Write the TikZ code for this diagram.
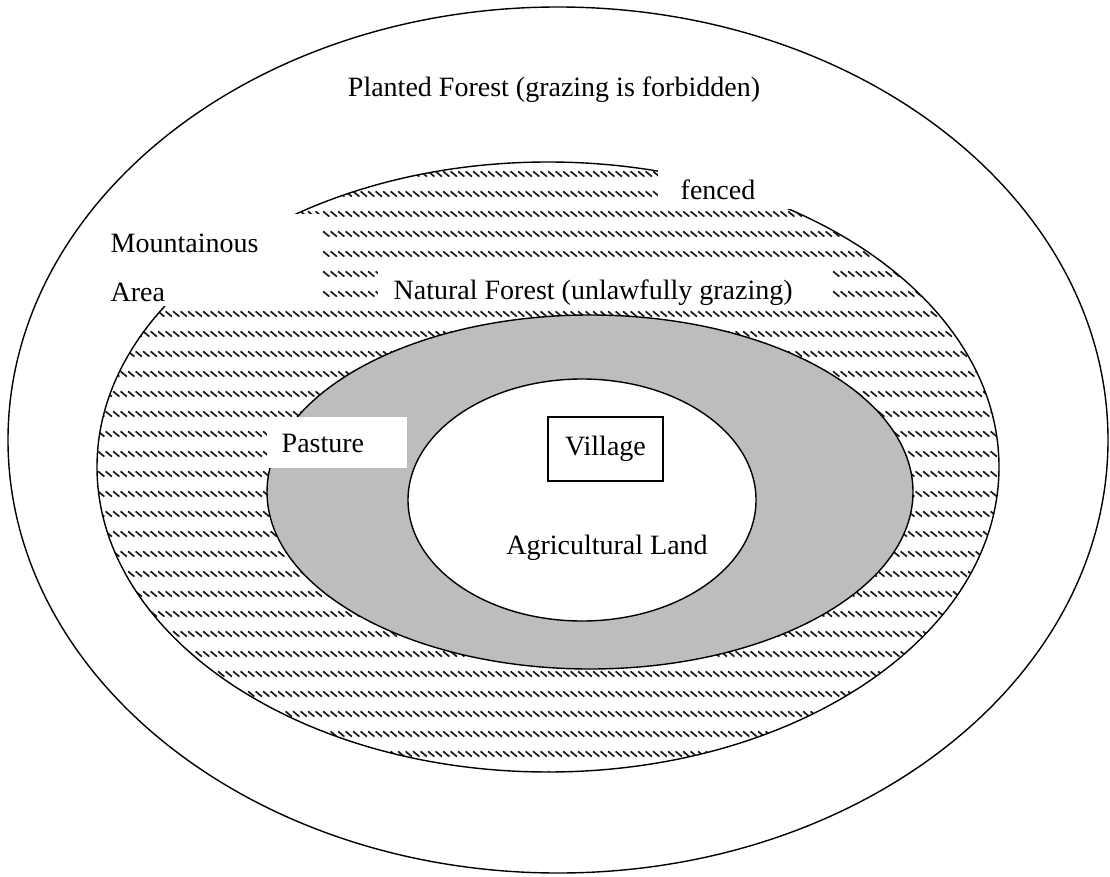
\documentclass[tikz,border=0pt]{standalone}
\usepackage{fontspec}
\setmainfont{Liberation Serif}
\usetikzlibrary{patterns}

% rows of short diagonal strokes for the natural forest ring
\pgfdeclarepatternformonly{forestticks}{\pgfqpoint{0pt}{-6pt}}{\pgfqpoint{7.5pt}{14pt}}{\pgfqpoint{7.5pt}{20pt}}{%
  \pgfsetlinewidth{1.7pt}%
  \pgfpathmoveto{\pgfqpoint{0.6pt}{5.6pt}}%
  \pgfpathlineto{\pgfqpoint{6.9pt}{0.4pt}}%
  \pgfusepath{stroke}}

\begin{document}
\begin{tikzpicture}[x=1pt,y=-1pt,line width=1.4pt,
  zonetext/.style={font=\fontsize{28}{30}\selectfont,inner sep=0pt},
  blank/.style={fill=white,draw=none}]
\useasboundingbox (0,0) rectangle (1110,877);

% planted forest (outer ring)
\draw[fill=white] (558,440) ellipse [x radius=550pt, y radius=433pt];

% natural forest (hatched ring)
\fill[pattern=forestticks,pattern color=black!90] (548,467) ellipse [x radius=451pt, y radius=305pt];
\draw (548,467) ellipse [x radius=451pt, y radius=305pt];

% cleared areas behind the labels of the natural forest ring
\fill[blank] (128,214) rectangle (322,306);
\fill[blank] (378,263) rectangle (832,304);
\fill[blank] (658,150) rectangle (802,209.5);

% pasture (grey ring)
\draw[fill=gray!52] (590,492) ellipse [x radius=323pt, y radius=177pt];
\fill[blank] (267,417) rectangle (407,468);

% agricultural land
\draw[fill=white] (582,500) ellipse [x radius=174pt, y radius=121pt];

% labels
\node[zonetext] (planted) at (554,90) {Planted Forest (grazing is forbidden)};
\node[zonetext,anchor=west] (fenced) at (680,190) {fenced};
\node[zonetext,anchor=west] (mount) at (110,243) {Mountainous};
\node[zonetext,anchor=west] (area) at (110,292) {Area};
\node[zonetext,anchor=west] (natural) at (393,293) {Natural Forest (unlawfully grazing)};
\node[zonetext,anchor=west] (pasture) at (281,443) {Pasture};
\node[zonetext,draw,minimum width=115pt,minimum height=64pt] (village) at (605.5,449) {Village};
\node[zonetext] (agri) at (607,548) {Agricultural Land};
\end{tikzpicture}
\end{document}
